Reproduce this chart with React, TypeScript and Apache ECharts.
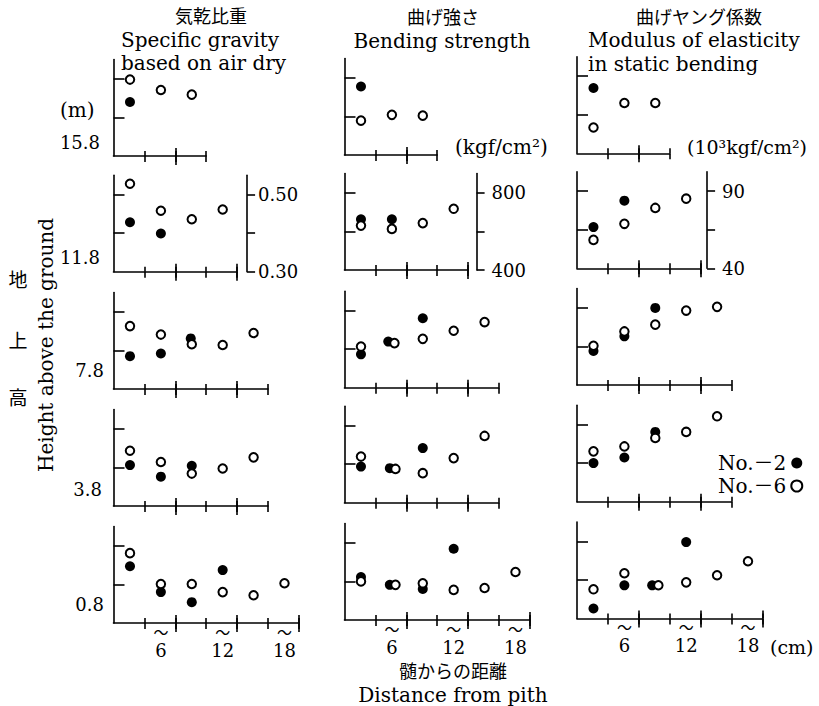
import React, { useEffect, useRef } from 'react';
import * as echarts from 'echarts';

// ---------- data ----------
const heights = ['15.8', '11.8', '7.8', '3.8', '0.8'];
const rowXMax = [9, 12, 15, 15, 18];
const distTicks = [3, 6, 9, 12, 15, 18];
const longTicks = [6, 12, 18];
const distLabelAt = [4.6, 10.6, 16.6];
const distLabels = ['6', '12', '18'];
const seriesNames = ['No.－2', 'No.－6'];

// Specific gravity (air dry)
const gravityNo2 = [
  [[1.6, 0.44]],
  [[1.6, 0.428], [4.6, 0.399]],
  [[1.6, 0.385], [4.6, 0.392], [7.5, 0.431]],
  [[1.6, 0.406], [4.6, 0.376], [7.6, 0.404]],
  [[1.6, 0.447], [4.6, 0.38], [7.6, 0.354], [10.6, 0.437]],
];
const gravityNo6 = [
  [[1.6, 0.498], [4.6, 0.471], [7.6, 0.459]],
  [[1.6, 0.528], [4.6, 0.458], [7.6, 0.436], [10.6, 0.461]],
  [[1.6, 0.463], [4.6, 0.441], [7.6, 0.416], [10.6, 0.414], [13.6, 0.445]],
  [[1.6, 0.443], [4.6, 0.414], [7.6, 0.384], [10.6, 0.397], [13.6, 0.426]],
  [[1.6, 0.481], [4.6, 0.401], [7.6, 0.401], [10.6, 0.38], [13.6, 0.372], [16.6, 0.403]],
];

// Bending strength (kgf/cm2)
const strengthNo2 = [
  [[1.6, 755]],
  [[1.6, 663], [4.6, 663]],
  [[1.6, 573], [4.25, 639], [7.6, 760]],
  [[1.6, 587], [4.4, 579], [7.6, 683]],
  [[1.6, 623], [4.4, 582], [7.6, 561], [10.6, 769]],
];
const strengthNo6 = [
  [[1.6, 578], [4.6, 608], [7.6, 604]],
  [[1.6, 630], [4.6, 613], [7.6, 643], [10.6, 717]],
  [[1.6, 613], [4.85, 631], [7.6, 653], [10.6, 695], [13.6, 740]],
  [[1.6, 639], [4.95, 575], [7.6, 553], [10.6, 631], [13.6, 746]],
  [[1.6, 600], [4.95, 582], [7.6, 590], [10.6, 556], [13.6, 566], [16.6, 649]],
];

// Modulus of elasticity (10^3 kgf/cm2)
const modulusNo2 = [
  [[1.6, 82.3]],
  [[1.6, 66.7], [4.6, 83.8]],
  [[1.6, 62.1], [4.6, 71.5], [7.6, 89.9]],
  [[1.6, 65.0], [4.6, 68.6], [7.6, 85.2]],
  [[1.6, 46.5], [4.6, 61.5], [7.3, 61.5], [10.6, 89.5]],
];
const modulusNo6 = [
  [[1.6, 56.7], [4.6, 72.6], [7.6, 72.6]],
  [[1.6, 58.4], [4.6, 68.8], [7.6, 79.1], [10.6, 85.1]],
  [[1.6, 65.4], [4.6, 74.7], [7.6, 79.1], [10.6, 88.2], [13.6, 90.6]],
  [[1.6, 72.6], [4.6, 75.8], [7.6, 81.3], [10.6, 85.2], [13.6, 95.3]],
  [[1.6, 58.9], [4.6, 69.3], [7.9, 61.5], [10.6, 63.4], [13.6, 68.0], [16.6, 77.1]],
];

const gravityTicks = [0.3, 0.4, 0.5];
const gravityLabels = [0.3, 0.5];
const strengthTicks = [400, 600, 800];
const strengthLabels = [400, 800];
const modulusTicks = [40, 65, 90];
const modulusLabels = [40, 90];

// ---------- layout ----------
const PX_PER_CM = 10.3;
const GRID_H = 96.5;
const INK = '#000';
const SERIF = '"DejaVu Serif", "Noto Sans CJK JP", serif';
const CJK = '"Noto Sans CJK JP", sans-serif';

const columns = [
  { no2: gravityNo2, no6: gravityNo6, min: 0.3, max: 0.55, ticks: gravityTicks, labels: gravityLabels, digits: 2,
    left: 113.5, bottoms: [156, 271.7, 389, 506, 623], rightOffset: 10, labelMargin: 11 },
  { no2: strengthNo2, no6: strengthNo6, min: 400, max: 900, ticks: strengthTicks, labels: strengthLabels, digits: 0,
    left: 344.5, bottoms: [155, 270, 387.7, 502.7, 620], rightOffset: 8.5, labelMargin: 15 },
  { no2: modulusNo2, no6: modulusNo6, min: 40, max: 102.5, ticks: modulusTicks, labels: modulusLabels, digits: 0,
    left: 577, bottoms: [153.3, 268.3, 385, 501.7, 618.5], rightOffset: 6.5, labelMargin: 15 },
];

function txt(text: string, x: number, y: number, size: number, font: string, align = 'left', rotation = 0) {
  return {
    type: 'text', x, y, rotation,
    style: { text, fill: INK, font: `${size}px ${font}`, align, verticalAlign: 'middle', lineHeight: size },
  };
}

function buildOption() {
  const grid: any[] = [];
  const xAxis: any[] = [];
  const yAxis: any[] = [];
  const filled: any[] = [];
  const open: any[] = [];
  const line = { color: INK, width: 1.6 };

  columns.forEach((col) => {
    for (let r = 0; r < 5; r++) {
      const g = grid.length;
      const xmax = rowXMax[r];
      const bottom = col.bottoms[r];
      grid.push({ left: col.left, top: bottom - GRID_H, width: xmax * PX_PER_CM, height: GRID_H,
        containLabel: false, outerBoundsMode: 'none' });
      const tickVals = distTicks.filter((v) => v <= xmax);
      const longVals = longTicks.filter((v) => v <= xmax);
      const base = { type: 'value', gridIndex: g, min: 0, max: xmax, position: 'bottom',
        splitLine: { show: false }, axisPointer: { show: false } };
      const last = r === 4;
      const xi = xAxis.length;
      xAxis.push({ ...base,
        axisLine: { show: true, onZero: false, lineStyle: line },
        axisTick: { show: true, inside: true, length: 5, customValues: tickVals, lineStyle: line },
        axisLabel: last
          ? { show: true, customValues: distLabelAt, margin: 19, color: INK, fontSize: 18, lineHeight: 16,
              fontFamily: SERIF, formatter: (v: number) => distLabels[distLabelAt.indexOf(v)] ?? '' }
          : { show: false } });
      xAxis.push({ ...base, axisLine: { show: false, onZero: false },
        axisTick: { show: true, inside: false, length: 6, customValues: tickVals, lineStyle: line },
        axisLabel: last
          ? { show: true, customValues: distLabelAt, margin: 3, color: INK, fontSize: 15, lineHeight: 10,
              fontFamily: CJK, formatter: () => '〜' }
          : { show: false } });
      xAxis.push({ ...base, axisLine: { show: false, onZero: false },
        axisTick: { show: true, inside: true, length: 8, customValues: longVals, lineStyle: line }, axisLabel: { show: false } });
      xAxis.push({ ...base, axisLine: { show: false, onZero: false },
        axisTick: { show: true, inside: false, length: 9, customValues: longVals, lineStyle: line }, axisLabel: { show: false } });

      const yi = yAxis.length;
      yAxis.push({ type: 'value', gridIndex: g, min: col.min, max: col.max, position: 'left',
        axisLine: { show: true, onZero: false, lineStyle: line },
        axisTick: { show: true, inside: true, length: 11, customValues: col.ticks.slice(1), lineStyle: line },
        axisLabel: { show: false }, splitLine: { show: false }, axisPointer: { show: false } });
      if (r === 1) {
        yAxis.push({ type: 'value', gridIndex: g, min: col.min, max: col.max, position: 'right', offset: col.rightOffset,
          axisLine: { show: true, onZero: false, lineStyle: line },
          axisTick: { show: true, inside: false, length: 8, customValues: col.ticks, lineStyle: line },
          axisLabel: { show: true, customValues: col.labels, margin: col.labelMargin, color: INK, fontSize: 18,
            fontFamily: SERIF, formatter: (v: number) => v.toFixed(col.digits) },
          splitLine: { show: false }, axisPointer: { show: false } });
      }

      filled.push({ type: 'scatter', name: seriesNames[0], xAxisIndex: xi, yAxisIndex: yi, data: col.no2[r],
        symbol: 'circle', symbolSize: 10, itemStyle: { color: INK, opacity: 1 }, z: 3 });
      open.push({ type: 'scatter', name: seriesNames[1], xAxisIndex: xi, yAxisIndex: yi, data: col.no6[r],
        symbol: 'circle', symbolSize: 8.5, itemStyle: { color: '#fff', borderColor: INK, borderWidth: 2, opacity: 1 }, z: 4 });
    }
  });

  const heightYs = [142, 257, 370, 489, 604];
  const heightRight = [100, 100, 104, 102, 104];

  const graphic: any[] = [
    txt('気乾比重', 211, 14.5, 18, CJK, 'center'),
    txt('Specific gravity', 121, 39.5, 20, SERIF),
    txt('based on air dry', 121, 63, 20, SERIF),
    txt('曲げ強さ', 443, 15.5, 18, CJK, 'center'),
    txt('Bending strength', 442, 41, 20, SERIF, 'center'),
    txt('曲げヤング係数', 699, 15.5, 18, CJK, 'center'),
    txt('Modulus of elasticity', 588, 40, 20, SERIF),
    txt('in static bending', 588, 63.5, 20, SERIF),
    txt('(m)', 60, 110, 20, SERIF),
    txt('(kgf/cm²)', 455, 147, 20, SERIF),
    txt('(10³kgf/cm²)', 687, 147, 19, SERIF),
    txt('地', 18, 278, 19, CJK, 'center'),
    txt('上', 18, 339, 19, CJK, 'center'),
    txt('高', 18, 396, 19, CJK, 'center'),
    txt('Height above the ground', 46, 345, 20, SERIF, 'center', Math.PI / 2),
    txt('(cm)', 770, 647, 19, SERIF),
    txt('髄からの距離', 453, 670, 18, CJK, 'center'),
    txt('Distance from pith', 453, 695, 20, SERIF, 'center'),
    ...heights.map((h, i) => txt(h, heightRight[i], heightYs[i], 18, SERIF, 'right')),
  ];

  return {
    animation: false,
    backgroundColor: '#fff',
    grid, xAxis, yAxis,
    series: [...filled, ...open],
    legend: {
      data: seriesNames, orient: 'vertical', left: 713, top: 448, align: 'right',
      itemWidth: 11, itemHeight: 11, itemGap: 3, selectedMode: false, icon: 'circle',
      textStyle: { fontFamily: SERIF, fontSize: 20, color: INK },
    },
    graphic,
  };
}

export default function App() {
  const ref = useRef<HTMLDivElement>(null);
  useEffect(() => {
    const chart = echarts.init(ref.current!, undefined, { renderer: 'svg' });
    chart.setOption(buildOption() as any);
    return () => chart.dispose();
  }, []);
  return <div ref={ref} style={{ position: 'absolute', left: 0, top: 0, width: 819, height: 706 }} />;
}
